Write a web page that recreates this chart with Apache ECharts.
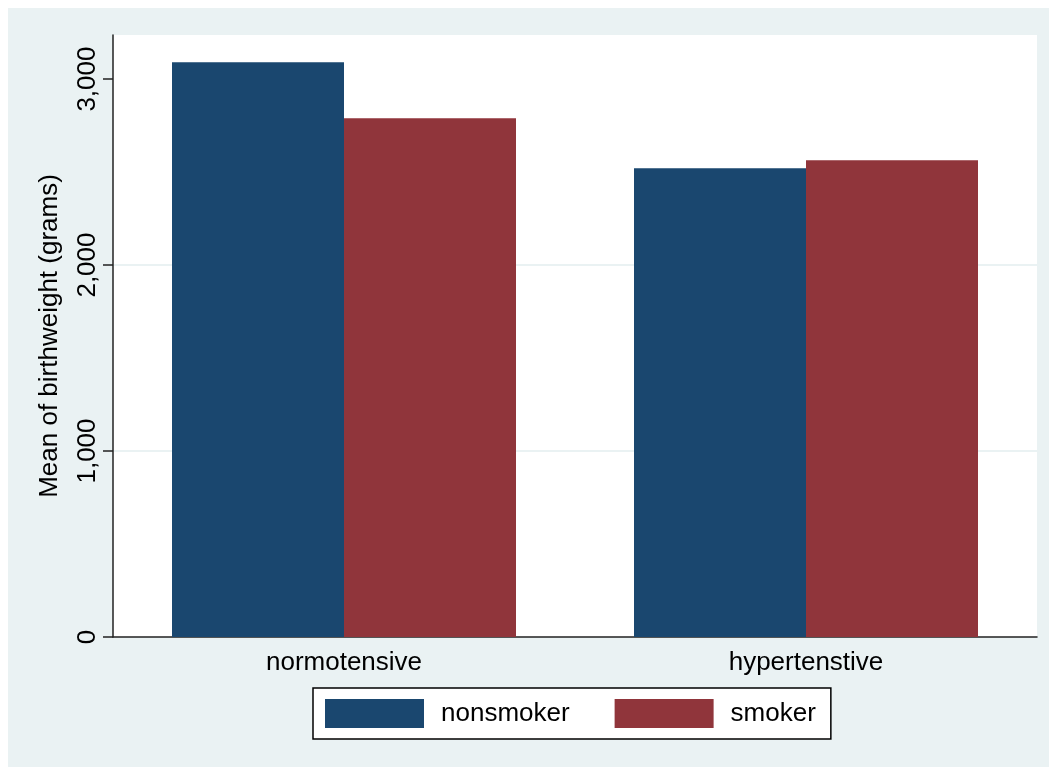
<!DOCTYPE html>
<html>
<head>
<meta charset="utf-8">
<script src="https://cdn.jsdelivr.net/npm/echarts@6/dist/echarts.min.js"></script>
<style>
html,body{margin:0;padding:0;background:#ffffff;}
#wrap{position:relative;width:1049px;height:767px;background:#ffffff;}
#bg{position:absolute;left:8px;top:8px;right:0;bottom:0;background:#EAF2F3;}
#chart{position:absolute;left:0;top:0;width:1049px;height:767px;}
</style>
</head>
<body>
<div id="wrap"><div id="bg"></div><div id="chart"></div></div>
<script>
const categories = ['normotensive', 'hypertenstive'];
const seriesNames = ['nonsmoker', 'smoker'];
const nonsmoker = [3091, 2521];
const smoker = [2790, 2563];
const yTicks = [0, 1000, 2000, 3000];
const yMax = 3237;
const colors = ['#1A476F', '#90353B'];

const FONT = '"Liberation Sans", Arial, Helvetica, sans-serif';
const chart = echarts.init(document.getElementById('chart'));
chart.setOption({
  animation: false,
  backgroundColor: 'transparent',
  textStyle: {fontFamily: FONT},
  grid: {left: 113, right: 12, top: 35, bottom: 130, show: true, backgroundColor: '#ffffff', borderWidth: 0, containLabel: false},
  legend: {
    left: 313, top: 688,
    data: seriesNames,
    icon: 'rect',
    itemWidth: 99, itemHeight: 29, itemGap: 45,
    padding: [11, 15, 11, 12],
    backgroundColor: '#ffffff',
    borderColor: '#000000', borderWidth: 1.5, borderRadius: 0,
    textStyle: {fontSize: 26, color: '#000000', fontFamily: FONT, padding: [0, 0, 0, 12], lineHeight: 29}
  },
  xAxis: {
    type: 'category',
    data: categories,
    axisLine: {show: true, lineStyle: {color: '#222222', width: 1.5}},
    axisTick: {show: false},
    axisLabel: {fontSize: 26, color: '#000000', margin: 13, fontFamily: FONT},
    splitLine: {show: false}
  },
  yAxis: {
    type: 'value',
    min: 0, max: yMax, interval: 1000,
    name: 'Mean of birthweight (grams)',
    nameLocation: 'middle',
    nameGap: 50,
    nameTextStyle: {fontSize: 26, color: '#000000', fontFamily: FONT},
    axisLine: {show: true, lineStyle: {color: '#222222', width: 1.5}},
    axisTick: {show: true, length: 10, lineStyle: {color: '#222222', width: 1.5}, customValues: yTicks},
    axisLabel: {
      fontSize: 26, color: '#000000', rotate: 90, margin: 12, fontFamily: FONT,
      customValues: yTicks,
      formatter: v => v.toLocaleString('en-US')
    },
    splitLine: {show: true, showMaxLine: false, showMinLine: false, lineStyle: {color: '#EAF2F3', width: 2}}
  },
  series: [
    {name: seriesNames[0], type: 'bar', data: nonsmoker, barWidth: 172, barGap: '0%', itemStyle: {color: colors[0]}},
    {name: seriesNames[1], type: 'bar', data: smoker, barWidth: 172, barGap: '0%', itemStyle: {color: colors[1]}}
  ]
});
</script>
</body>
</html>
